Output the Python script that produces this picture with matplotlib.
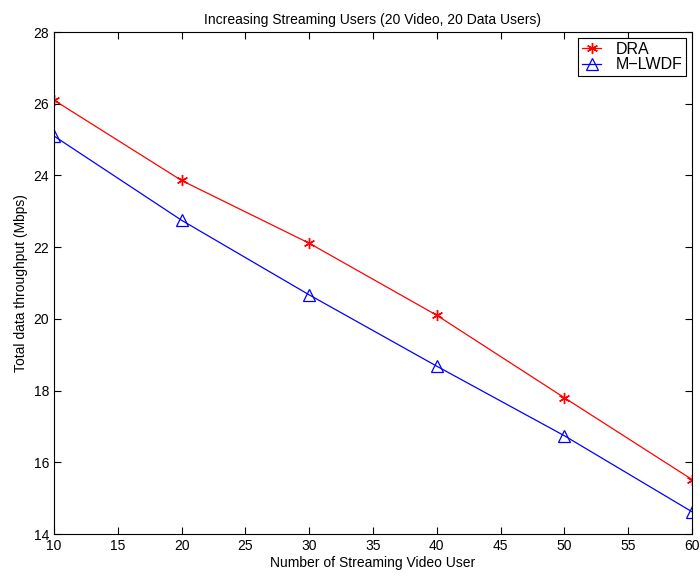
import matplotlib
matplotlib.use("Agg")
import matplotlib.pyplot as plt

plt.rcParams['font.family'] = ['Liberation Sans', 'DejaVu Sans']

users = [10, 20, 30, 40, 50, 60]
dra = [26.1, 23.86, 22.11, 20.1, 17.8, 15.52]
mlwdf = [25.1, 22.75, 20.67, 18.68, 16.74, 14.62]

fig = plt.figure(figsize=(7, 5.76), dpi=100)
ax = fig.add_axes([0.0771, 0.0729, 0.9115, 0.8715])

# asterisk marker, 6 arms
ax.plot(users, dra, color='red', marker=(6, 2, 0), markersize=8, linewidth=0.9,
        markeredgewidth=1.0, label='DRA')
ax.plot(users, mlwdf, color='blue', marker='^', markersize=8, linewidth=0.9,
        markerfacecolor='none', markeredgewidth=0.9, label='M\u2212LWDF')

ax.set_xlim(10, 60)
ax.set_ylim(14, 28)
ax.set_xticks(range(10, 61, 5))
ax.set_yticks(range(14, 29, 2))
ax.tick_params(direction='in', top=True, right=True, labelsize=10, length=5, width=0.8)
for s in ax.spines.values():
    s.set_linewidth(0.8)

ax.set_title('Increasing Streaming Users (20 Video, 20 Data Users)', fontsize=10, pad=6)
ax.set_xlabel('Number of Streaming Video User', fontsize=10, labelpad=2)
ax.set_ylabel('Total data throughput (Mbps)', fontsize=10, labelpad=4)

leg = ax.legend(loc='upper right', fontsize=11.5, fancybox=False, framealpha=1,
                edgecolor='black', borderaxespad=0.35, handlelength=1.2,
                handletextpad=0.9, labelspacing=0.05, borderpad=0.25)
leg.get_frame().set_linewidth(0.8)

fig.savefig('out.png', dpi=100)
